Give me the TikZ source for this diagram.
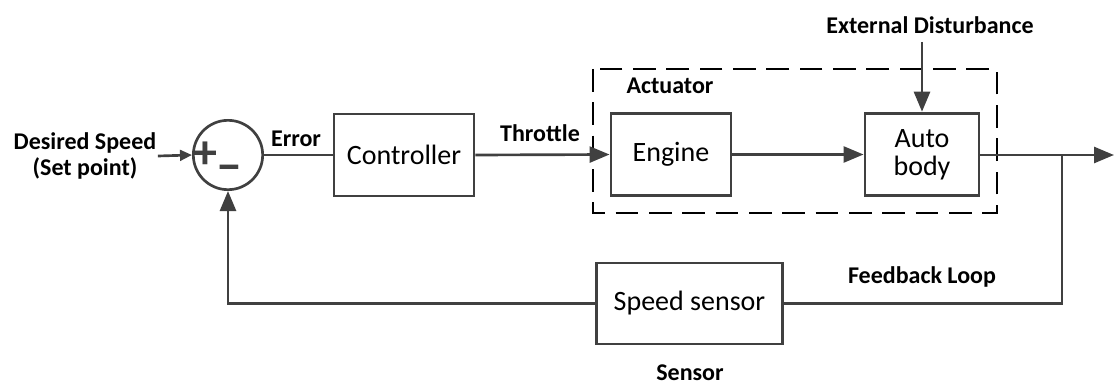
\documentclass[tikz,border=0pt]{standalone}
\usepackage{fontspec}
\setmainfont{Carlito}
\usetikzlibrary{arrows.meta}

\definecolor{linegray}{HTML}{404040}

\tikzset{
  blockbox/.style={draw=linegray, line width=2.2pt, fill=white, inner sep=0pt,
                   font=\fontsize{21}{24}\selectfont, align=center},
  tag/.style={font=\fontsize{18}{20}\selectfont\bfseries, inner sep=1pt, align=center},
  signmark/.style={font=\fontsize{36}{36}\selectfont\bfseries, text=linegray, inner sep=0pt},
  wire/.style={draw=linegray, line width=2pt},
  flow/.style={wire, -{Triangle[length=15pt, width=12pt]}},
  smallflow/.style={wire, -{Triangle[length=9pt, width=8pt]}},
  groupbox/.style={draw=black, line width=1.1pt, dash pattern=on 17pt off 8pt}
}

\begin{document}
\begin{tikzpicture}[x=0.75pt, y=-0.75pt]
  \useasboundingbox (0,0) rectangle (1114,385);

  % actuator group frame
  \draw[groupbox] (593,69) rectangle (997,213);

  % summing junction
  \node[circle, draw=linegray, line width=2pt, minimum size=52pt, inner sep=0pt] (sum) at (228,155) {};
  \node[signmark] (plus) at (205,155) {+};
  \node[signmark] (minus) at (229,174) {−};

  % blocks
  \node[blockbox, minimum width=105pt, minimum height=61.5pt] (ctrl) at (404,155) {Controller};
  \node[blockbox, minimum width=90pt, minimum height=62pt] (engine) at (671,154.5) {Engine};
  \node[blockbox, minimum width=85.5pt, minimum height=62pt] (body) at (922,154.5) {Auto\\[-3pt]body};
  \node[blockbox, minimum width=140pt, minimum height=60.75pt] (sensor) at (689.5,303.5) {Speed sensor};

  % labels
  \node[tag] (setpt) at (85,156) {Desired Speed\\(Set point)};
  \node[tag] (err) at (296,139) {Error};
  \node[tag] (thr) at (540,133) {Throttle};
  \node[tag] (act) at (670,86) {Actuator};
  \node[tag] (dist) at (930,25) {External Disturbance};
  \node[tag] (fbl) at (922,277) {Feedback Loop};
  \node[tag] (sens) at (690,373) {Sensor};

  % connection points
  \coordinate (distin) at (922,42);
  \coordinate (br) at (1062,155);
  \coordinate (out) at (1114,155);

  % signal flow
  \draw[smallflow] (setpt.east) -- (sum.west);
  \draw[wire] (sum.east) -- (ctrl.west);
  \draw[flow] (ctrl.east) -- (engine.west);
  \draw[flow] (engine.east) -- (body.west);
  \draw[flow] (distin) -- (body.north);
  \draw[flow] (body.east |- br) -- (out);
  \draw[wire] (br) |- (sensor.east);
  \draw[flow] (sensor.west) -| (sum.south);
\end{tikzpicture}
\end{document}
